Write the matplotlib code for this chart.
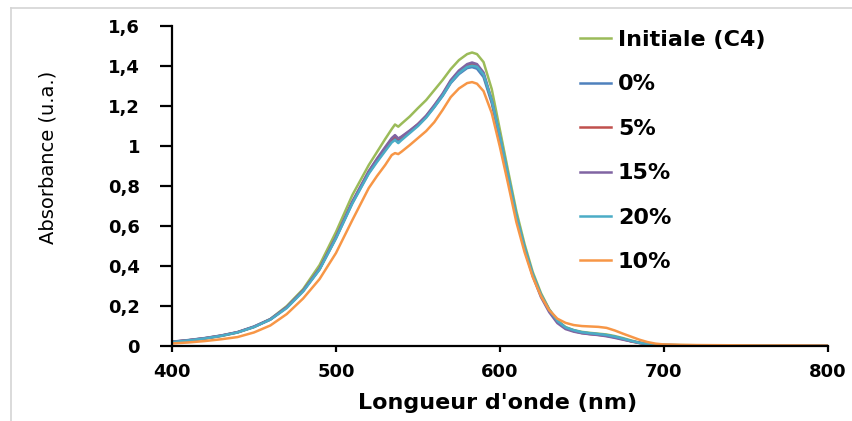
import matplotlib
matplotlib.use('Agg')
import matplotlib.pyplot as plt
from matplotlib.lines import Line2D
from matplotlib.ticker import FuncFormatter

wavelengths = [400, 410, 420, 430, 440, 450, 460, 470, 480, 490, 500, 510, 520, 525, 530, 534, 536, 538,
               540, 545, 550, 555, 560, 565, 570, 575, 580, 583, 586, 590, 595, 600, 605, 610, 615, 620,
               625, 630, 635, 640, 645, 650, 655, 660, 665, 670, 675, 680, 685, 690, 695, 700, 710, 720,
               740, 760, 780, 800]

initiale = [0.020, 0.027, 0.037, 0.050, 0.068, 0.095, 0.135, 0.200, 0.285, 0.405, 0.570, 0.755, 0.905, 0.970,
            1.035, 1.085, 1.108, 1.097, 1.112, 1.148, 1.190, 1.230, 1.280, 1.330, 1.385, 1.430, 1.460, 1.468,
            1.460, 1.420, 1.285, 1.080, 0.875, 0.675, 0.510, 0.370, 0.265, 0.185, 0.128, 0.095, 0.080, 0.071,
            0.066, 0.062, 0.058, 0.050, 0.040, 0.028, 0.018, 0.011, 0.008, 0.006, 0.005, 0.004, 0.003, 0.003,
            0.002, 0.002]

p0 = [0.022, 0.030, 0.040, 0.053, 0.070, 0.098, 0.135, 0.195, 0.278, 0.385, 0.540, 0.715, 0.865, 0.925,
      0.980, 1.025, 1.040, 1.028, 1.040, 1.070, 1.105, 1.145, 1.195, 1.250, 1.315, 1.360, 1.390, 1.395,
      1.387, 1.345, 1.215, 1.035, 0.840, 0.645, 0.490, 0.355, 0.255, 0.180, 0.125, 0.092, 0.078, 0.068,
      0.063, 0.059, 0.054, 0.046, 0.036, 0.025, 0.016, 0.010, 0.007, 0.005, 0.004, 0.004, 0.003, 0.003,
      0.002, 0.002]

p5 = [0.021, 0.029, 0.039, 0.052, 0.069, 0.096, 0.133, 0.193, 0.276, 0.385, 0.543, 0.720, 0.872, 0.933,
      0.990, 1.035, 1.050, 1.036, 1.045, 1.075, 1.110, 1.150, 1.202, 1.257, 1.325, 1.372, 1.405, 1.410,
      1.402, 1.360, 1.225, 1.043, 0.845, 0.648, 0.490, 0.355, 0.253, 0.178, 0.123, 0.090, 0.075, 0.065,
      0.060, 0.056, 0.051, 0.044, 0.034, 0.023, 0.015, 0.010, 0.007, 0.005, 0.004, 0.004, 0.003, 0.003,
      0.002, 0.002]

p15 = [0.021, 0.029, 0.039, 0.052, 0.069, 0.096, 0.133, 0.193, 0.276, 0.387, 0.545, 0.723, 0.875, 0.937,
       0.995, 1.040, 1.055, 1.038, 1.048, 1.078, 1.110, 1.152, 1.205, 1.262, 1.330, 1.378, 1.410, 1.418,
       1.410, 1.368, 1.230, 1.045, 0.845, 0.645, 0.485, 0.350, 0.245, 0.170, 0.115, 0.085, 0.072, 0.064,
       0.059, 0.055, 0.049, 0.041, 0.032, 0.024, 0.017, 0.010, 0.007, 0.005, 0.004, 0.003, 0.003, 0.002,
       0.002, 0.002]

p20 = [0.020, 0.028, 0.038, 0.051, 0.068, 0.095, 0.132, 0.190, 0.273, 0.382, 0.538, 0.713, 0.862, 0.920,
       0.975, 1.018, 1.030, 1.015, 1.030, 1.065, 1.100, 1.142, 1.195, 1.252, 1.318, 1.365, 1.396, 1.402,
       1.397, 1.358, 1.228, 1.050, 0.855, 0.655, 0.495, 0.360, 0.258, 0.182, 0.126, 0.093, 0.079, 0.069,
       0.064, 0.060, 0.055, 0.047, 0.037, 0.026, 0.016, 0.010, 0.007, 0.005, 0.004, 0.004, 0.003, 0.003,
       0.002, 0.002]

p10 = [0.013, 0.018, 0.025, 0.034, 0.045, 0.068, 0.103, 0.160, 0.238, 0.335, 0.465, 0.630, 0.790, 0.850,
       0.905, 0.955, 0.965, 0.960, 0.972, 1.005, 1.040, 1.075, 1.120, 1.180, 1.245, 1.288, 1.315, 1.320,
       1.312, 1.275, 1.165, 0.995, 0.810, 0.620, 0.470, 0.345, 0.250, 0.180, 0.137, 0.116, 0.105, 0.100,
       0.098, 0.096, 0.091, 0.078, 0.062, 0.047, 0.032, 0.020, 0.012, 0.008, 0.006, 0.005, 0.004, 0.003,
       0.003, 0.002]

series = [
    ('Initiale (C4)', initiale, '#9BBB59'),
    ('0%', p0, '#4F81BD'),
    ('5%', p5, '#C0504D'),
    ('15%', p15, '#8064A2'),
    ('20%', p20, '#4BACC6'),
    ('10%', p10, '#F79646'),
]


def comma(v, pos):
    s = '{:.1f}'.format(v).replace('.', ',')
    if s.endswith(',0'):
        s = s[:-2]
    return s


fig = plt.figure(figsize=(8.53, 4.21), dpi=100)
ax = fig.add_axes([0.2016, 0.178, 0.769, 0.760])

for label, values, color in series:
    ax.plot(wavelengths, values, color=color, lw=1.8, label=label)

ax.set_xlim(400, 800)
ax.set_ylim(0, 1.6)
ax.set_xticks([400, 500, 600, 700, 800])
ax.set_yticks([0, 0.2, 0.4, 0.6, 0.8, 1.0, 1.2, 1.4, 1.6])
ax.yaxis.set_major_formatter(FuncFormatter(comma))

for side in ['top', 'right']:
    ax.spines[side].set_visible(False)
for side in ['left', 'bottom']:
    ax.spines[side].set_linewidth(1.6)
ax.tick_params(axis='x', direction='out', length=4, width=1.6, pad=8, labelsize=13)
ax.tick_params(axis='y', direction='out', length=9, width=1.6, pad=14, labelsize=13)
for lbl in ax.get_xticklabels() + ax.get_yticklabels():
    lbl.set_fontweight('bold')

ax.set_xlabel("Longueur d'onde (nm)", fontsize=16, fontweight='bold')
ax.xaxis.set_label_coords(0.496, -0.147)
ax.set_ylabel('Absorbance (u.a.)', fontsize=14)
ax.yaxis.set_label_coords(-0.175, 0.59)

leg = ax.legend(loc='upper left', bbox_to_anchor=(580 / 853, 1 - 30 / 421), bbox_transform=fig.transFigure,
                frameon=False, prop={'size': 16, 'weight': 'bold'}, handlelength=1.4, handletextpad=0.3,
                borderpad=0, borderaxespad=0, labelspacing=1.1)

# light grey frame around the picture
fig.add_artist(Line2D([11 / 853, 11 / 853], [0, 1 - 8 / 421], transform=fig.transFigure, color='#d4d4d4', lw=1.2))
fig.add_artist(Line2D([11 / 853, 1], [1 - 8 / 421, 1 - 8 / 421], transform=fig.transFigure, color='#d4d4d4', lw=1.2))

fig.savefig('out.png', dpi=100)
